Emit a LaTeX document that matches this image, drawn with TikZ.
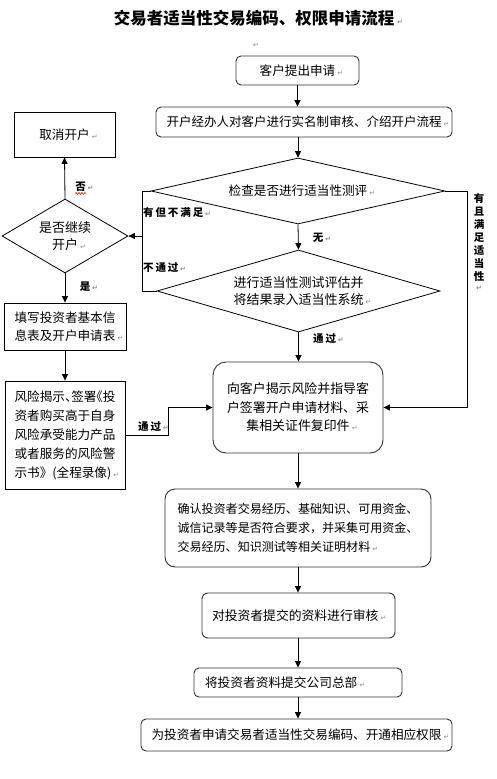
\documentclass[tikz,border=0pt]{standalone}
\usepackage{fontspec}
\setmainfont{Noto Sans CJK SC}
\newfontfamily\symfont{DejaVu Sans}
\newfontfamily\labfont[LetterSpace=18]{Noto Sans CJK SC}
\usetikzlibrary{arrows.meta,shapes.geometric,decorations.pathmorphing}
\newcommand\pmarkglyph{{\symfont\fontsize{7}{7}\selectfont\color{black!45}↵}}
\newcommand\pmark{\rlap{\,\pmarkglyph}}
\newcommand\hfl[1]{\makebox[0.5em][l]{#1}}
\newcommand\hfr[1]{\makebox[0.5em][r]{#1}}
\begin{document}
\begin{tikzpicture}[x=1pt,y=-1pt,
  every node/.style={inner sep=0pt},
  bx/.style={draw=black!80, line width=0.9pt, rounded corners=5pt, font=\fontsize{12.6}{18.5}\selectfont},
  sq/.style={draw=black, line width=0.9pt, font=\fontsize{12.6}{18}\selectfont},
  dm/.style={diamond, draw=black, line width=0.8pt, font=\fontsize{12.6}{17}\selectfont},
  lab/.style={font=\labfont\bfseries\fontsize{10.5}{12}\selectfont},
  arr/.style={-{Triangle[length=6.5pt,width=6pt]}, line width=0.8pt},
  ln/.style={line width=0.8pt}]
\useasboundingbox (0,0) rectangle (497,779);

\node (title) at (254,18) {\fontsize{16.5}{20}\selectfont\bfseries 交易者适当性交易编码、权限申请流程\pmark};
\node (mark0) at (256,45) {\pmarkglyph};

\node[bx, minimum width=123, minimum height=29] (start) at (297.5,70.5) {客户提出申请\pmark};
\node[bx, minimum width=296, minimum height=30, font=\fontsize{12.5}{16}\selectfont] (kyc) at (304,122) {开户经办人对客户进行实名制审核、介绍开户流程\pmark};
\node[sq, minimum width=101, minimum height=45] (cancel) at (64.5,134.5) {取消开户\pmark};

\node[dm, minimum width=294, minimum height=66, aspect=4.45] (check) at (298,191) {检查是否进行适当性测评\pmark};
\node[dm, minimum width=126, minimum height=74, aspect=1.7, align=center, font=\fontsize{13}{17}\selectfont] (cont) at (65,236) {是否继续\\开户\pmark};
\node[dm, minimum width=283, minimum height=82, aspect=3.45, align=center, font=\fontsize{13}{17}\selectfont] (test) at (298.5,291) {进行适当性测试评估并\\将结果录入适当性系统\pmark};

\node[sq, minimum width=122, minimum height=47, align=left] (fill) at (65,326.5) {填写投资者基本信\\息表及开户申请表\pmark};
\node[sq, minimum width=120, minimum height=108, align=left, font=\fontsize{12.6}{19}\selectfont] (risk) at (65,435) {风险揭示\hfl{、}签署\hfr{《}投\\资者购买高于自身\\风险承受能力产品\\或者服务的风险警\\示书》(全程录像)\pmark};

\node[bx, rounded corners=13pt, minimum width=170, minimum height=91, align=center, font=\fontsize{12.9}{18.5}\selectfont] (disclose) at (298,407.5) {向客户揭示风险并指导客\\户签署开户申请材料、采\\集相关证件复印件\pmark};
\node[bx, rounded corners=10pt, minimum width=266, minimum height=78, align=left, font=\fontsize{12.05}{19}\selectfont] (confirm) at (298,528) {确认投资者交易经历、基础知识、可用资金、\\诚信记录等是否符合要求，并采集可用资金、\\交易经历、知识测试等相关证明材料\pmark};
\node[bx, rounded corners=6pt, minimum width=193, minimum height=45, text width=173, inner xsep=10, align=left, font=\fontsize{12.8}{16}\selectfont] (review) at (298.5,615.5) {对投资者提交的资料进行审核\pmark};
\node[bx, minimum width=208, minimum height=29, text width=186, inner xsep=11, align=left, font=\fontsize{12.7}{16}\selectfont] (submit) at (298,682.5) {将投资者资料提交公司总部\pmark};
\node[bx, minimum width=311, minimum height=32, font=\fontsize{12.6}{16}\selectfont] (final) at (296.5,735) {为投资者申请交易者适当性交易编码、开通相应权限\pmark};

% labels
\node[lab, anchor=west] (l1) at (143,213) {有但不满足\pmark};
\node[lab, anchor=west] (l2) at (143,268) {不通过\pmark};
\node[lab] (l3) at (318,238) {无\pmark};
\node[lab, anchor=west] (l4) at (313,339) {通过\pmark};
\node[lab, anchor=west] (l5) at (138,427) {通过\pmark};
\node[lab] (l6) at (80.5,187) {否\pmark};
\node[lab] (l7) at (85,287) {是\pmark};
\node[lab, align=center, anchor=north, font=\labfont\bfseries\fontsize{10.5}{13}\selectfont] (l8) at (479,193) {有\\且\\满\\足\\适\\当\\性\\[-3pt]\pmarkglyph};
\draw[red, line width=0.6pt, decorate, decoration={snake, amplitude=0.9pt, segment length=3pt}] ([yshift=-1.5pt]l6.south west) -- ([yshift=-1.5pt]l6.south east);

% connectors
\coordinate (jl) at (142,236);
\coordinate (jb) at (168,407.5);
\coordinate (jr) at (467,407.5);
\draw[arr] (start.south) -- (start.south |- kyc.north);
\draw[arr] (check.north |- kyc.south) -- (check.north);
\draw[arr] (check.west) -| (jl) -- (cont.east);
\draw[ln] (test.west) -| (jl);
\draw[arr] (cont.north) -- (cancel.south);
\draw[arr] (cont.south) -- (fill.north);
\draw[arr] (fill.south) -- (risk.north);
\draw[arr] (risk.east) -| (jb) -- (disclose.west);
\draw[arr] (check.east) -| (jr) -- (disclose.east);
\draw[arr] (check.south) -- (test.north);
\draw[arr] (test.south) -- (test.south |- disclose.north);
\draw[arr] (disclose.south) -- (confirm.north);
\draw[arr] (confirm.south) -- (confirm.south |- review.north);
\draw[arr] (review.south -| submit.north) -- (submit.north);
\draw[arr] (submit.south) -- (submit.south |- final.north);
\end{tikzpicture}
\end{document}
